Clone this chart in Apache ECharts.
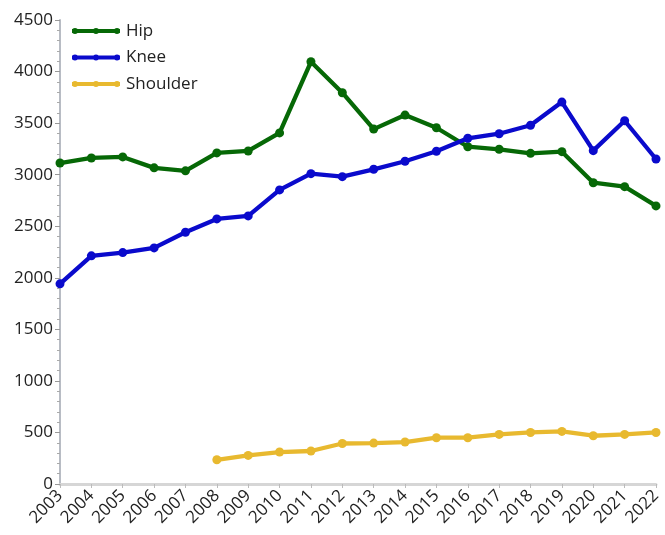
<!DOCTYPE html>
<html><head><meta charset="utf-8">
<script src="https://cdn.jsdelivr.net/npm/echarts@6/dist/echarts.min.js"></script>
<style>html,body{margin:0;padding:0;background:#fff}#c{width:665px;height:535px}</style>
</head><body><div id="c"></div>
<script>
const years = ['2003','2004','2005','2006','2007','2008','2009','2010','2011','2012','2013','2014','2015','2016','2017','2018','2019','2020','2021','2022'];
const hip = [3113,3162,3172,3066,3037,3211,3230,3405,4095,3795,3442,3578,3455,3271,3246,3207,3223,2922,2884,2697];
const knee = [1941,2213,2244,2290,2442,2571,2600,2852,3010,2981,3052,3130,3227,3353,3397,3479,3704,3233,3523,3152];
const shoulder = [null,null,null,null,null,235,277,310,320,393,397,407,449,449,481,500,510,468,481,500];
const yTicks = {min:0, max:4500, interval:500};

const font = 'Open Sans';
const icon = 'path://M0,2.6L48,2.6L48,6.6L0,6.6Z M0,4.6a3,3 0 1,1 6,0a3,3 0 1,1 -6,0Z M21,4.6a3,3 0 1,1 6,0a3,3 0 1,1 -6,0Z M42,4.6a3,3 0 1,1 6,0a3,3 0 1,1 -6,0Z';
function s(name, data, color){
  return {name, type:'line', data, symbol:'circle', symbolSize:9,
    lineStyle:{width:4.3, color}, itemStyle:{color}, connectNulls:false};
}
const chart = echarts.init(document.getElementById('c'), null, {renderer:'canvas'});
chart.setOption({
  animation:false,
  textStyle:{fontFamily:font},
  grid:{left:60, right:9, top:20, bottom:51, containLabel:false},
  legend:{left:67, top:15, orient:'vertical', itemGap:4.5, itemWidth:48, itemHeight:6,
    icon, textStyle:{fontSize:17, color:'#222', fontFamily:font, padding:[0,0,0,1], lineHeight:22},
    data:['Hip','Knee','Shoulder']},
  xAxis:{type:'category', data:years, boundaryGap:false, offset:4,
    axisLine:{lineStyle:{color:'#d6d6d6', width:3}},
    axisTick:{show:true, alignWithLabel:true, length:4, lineStyle:{color:'#bbb'}},
    axisLabel:{rotate:45, fontSize:17, color:'#222', fontFamily:font, margin:5, interval:0},
    splitLine:{show:false}},
  yAxis:{type:'value', min:yTicks.min, max:yTicks.max, interval:yTicks.interval,
    axisLine:{show:true, lineStyle:{color:'#b8bcc4', width:2}},
    axisTick:{show:true, length:5, lineStyle:{color:'#999'}},
    minorTick:{show:true, splitNumber:5, length:3, lineStyle:{color:'#aaa'}},
    axisLabel:{fontSize:17, color:'#222', fontFamily:font, margin:7, formatter:v=>String(v)},
    splitLine:{show:false}},
  series:[s('Hip', hip, '#066806'), s('Knee', knee, '#0a0acc'), s('Shoulder', shoulder, '#e8b92f')]
});
</script></body></html>
